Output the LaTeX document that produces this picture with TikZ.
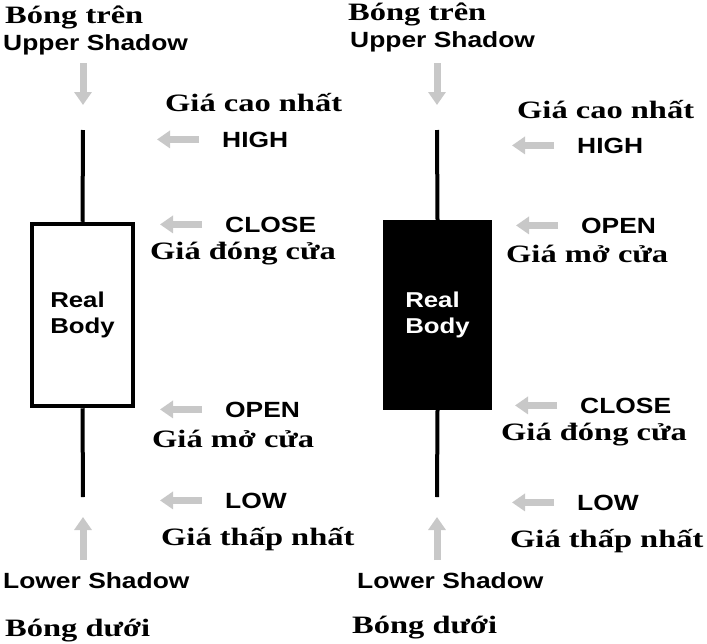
\documentclass[tikz,border=0pt]{standalone}
\usepackage{fontspec}
\newfontfamily\vnfont[FakeStretch=1.3]{Liberation Serif}
\newfontfamily\enfont[FakeStretch=1.2]{Liberation Sans}
\usetikzlibrary{arrows.meta}
\definecolor{arrgray}{RGB}{200,200,200}

\begin{document}
\begin{tikzpicture}[x=1pt,y=-1pt,
    vn/.style={inner sep=0pt,anchor=base west,font=\vnfont\bfseries\fontsize{25}{29}\selectfont},
    en/.style={inner sep=0pt,anchor=base west,font=\enfont\bfseries\fontsize{22}{26}\selectfont},
    shadearrow/.style={draw=arrgray,line width=7pt,-{Triangle[length=13pt,width=17pt]}},
    wick/.style={line width=4pt},
    realbody/.style={minimum width=101pt,minimum height=182pt,align=left,inner sep=0pt,
        font=\enfont\bfseries\fontsize{21.5}{26}\selectfont}]
            \useasboundingbox (0,0) rectangle (707,643);
            % white candle
            \node[realbody,draw,line width=4.5pt] (bodyL) at (82.5,315) {Real\\Body};
            \coordinate (topL) at (83,130);
            \coordinate (botL) at (83,497);
            \draw[wick] (bodyL.north) -- (topL);
            \draw[wick] (bodyL.south) -- (botL);
            \node[vn] (bongtrenL) at (5,23) {Bóng trên};
            \node[en] (upperL) at (3,50) {Upper Shadow};
            \node[vn] (caoL) at (165,111) {Giá cao nhất};
            \node[en] (highL) at (222,147) {HIGH};
            \node[en] (closeL) at (225,232) {CLOSE};
            \node[vn] (dongL) at (150,259) {Giá đóng cửa};
            \node[en] (openL) at (225,417) {OPEN};
            \node[vn] (moL) at (152,447) {Giá mở cửa};
            \node[en] (lowL) at (225,508) {LOW};
            \node[vn] (thapL) at (161,545) {Giá thấp nhất};
            \node[en] (lowerL) at (3,588) {Lower Shadow};
            \node[vn] (bongduoiL) at (5,636) {Bóng dưới};
            \coordinate (dnL) at (83,63);
            \coordinate (upL) at (83,560);
            \draw[shadearrow] (dnL) -- ++(0,42);
            \draw[shadearrow] (upL) -- ++(0,-43);
            \foreach \lab in {highL,closeL,openL,lowL}{
                \draw[shadearrow] ([xshift=-23pt]\lab.west) -- ++(-42,0);
            }
            % black candle
            \node[realbody,fill=black,text=white,minimum width=109pt,minimum height=190pt] (bodyR) at (437.5,315) {Real\\Body};
            \coordinate (topR) at (437,130);
            \coordinate (botR) at (437,497);
            \draw[wick] (bodyR.north) -- (topR);
            \draw[wick] (bodyR.south) -- (botR);
            \node[vn] (bongtrenR) at (348,20) {Bóng trên};
            \node[en] (upperR) at (350,47) {Upper Shadow};
            \node[vn] (caoR) at (517,118) {Giá cao nhất};
            \node[en] (highR) at (577,153) {HIGH};
            \node[en] (openR) at (581,233) {OPEN};
            \node[vn] (moR) at (506,262) {Giá mở cửa};
            \node[en] (closeR) at (580,413) {CLOSE};
            \node[vn] (dongR) at (501,440) {Giá đóng cửa};
            \node[en] (lowR) at (577,510) {LOW};
            \node[vn] (thapR) at (510,547) {Giá thấp nhất};
            \node[en] (lowerR) at (357,588) {Lower Shadow};
            \node[vn] (bongduoiR) at (352,633) {Bóng dưới};
            \coordinate (dnR) at (437,63);
            \coordinate (upR) at (437,560);
            \draw[shadearrow] (dnR) -- ++(0,42);
            \draw[shadearrow] (upR) -- ++(0,-43);
            \foreach \lab in {highR,openR,closeR,lowR}{
                \draw[shadearrow] ([xshift=-23pt]\lab.west) -- ++(-42,0);
            }
\end{tikzpicture}
\end{document}
